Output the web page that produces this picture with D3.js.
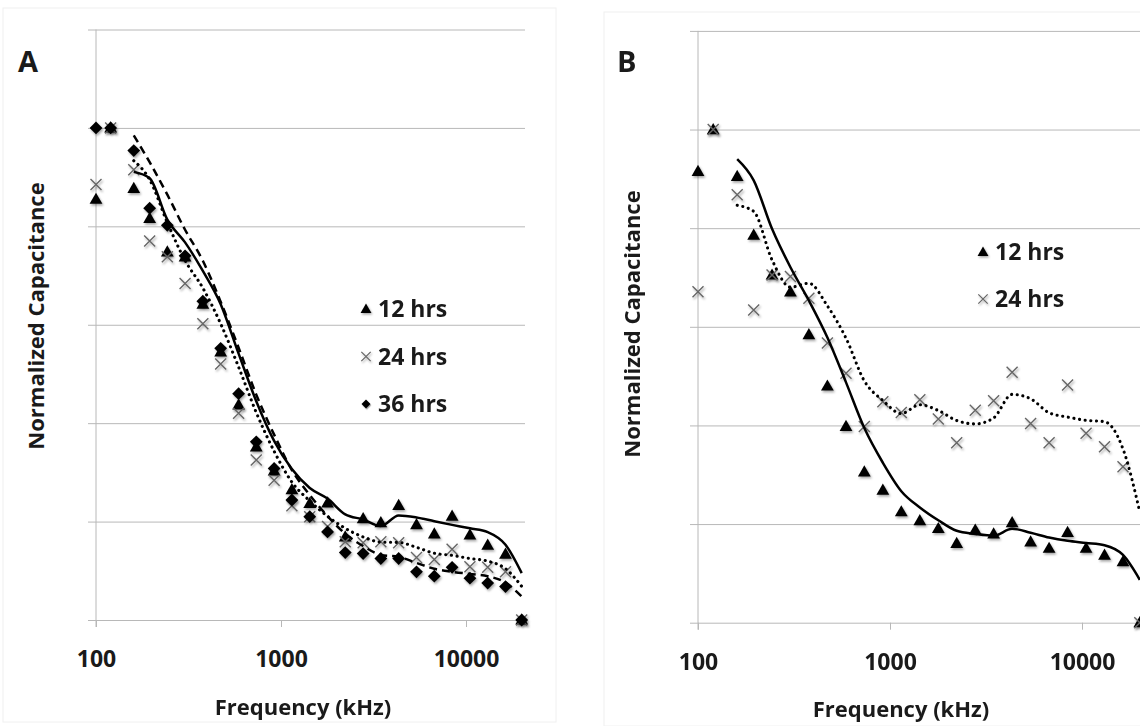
<!DOCTYPE html>
<html>
<head>
<meta charset="utf-8">
<script src="https://cdn.jsdelivr.net/npm/d3@7/dist/d3.min.js"></script>
<style>
  html, body { margin: 0; padding: 0; background: #fff; }
  svg { display: block; }
  text { font-family: "Open Sans", "Lato", sans-serif; fill: #1a1a1a; }
</style>
</head>
<body>
<svg id="chart" width="1140" height="726"></svg>
<script>
// ---- data ----
const frequencies = [100, 120, 160, 195, 243, 303, 378, 472, 590, 735, 918, 1145, 1430,
  1785, 2225, 2780, 3465, 4325, 5400, 6740, 8410, 10500, 13100, 16350, 20000];

const panelA_12hrs = [0.855, 1.0, 0.877, 0.816, 0.748, 0.738, 0.642, 0.545, 0.437, 0.352, 0.303, 0.265, 0.237,
  0.238, 0.169, 0.206, 0.198, 0.233, 0.194, 0.175, 0.211, 0.173, 0.152, 0.134, 0];
const panelA_24hrs = [0.885, 1.0, 0.915, 0.770, 0.738, 0.684, 0.602, 0.520, 0.420, 0.325, 0.284, 0.232, 0.210,
  0.190, 0.159, 0.157, 0.159, 0.157, 0.127, 0.123, 0.144, 0.108, 0.107, 0.098, 0];
const panelA_36hrs = [1.0, 1.0, 0.954, 0.837, 0.802, 0.740, 0.648, 0.552, 0.460, 0.362, 0.308, 0.244, 0.210,
  0.179, 0.137, 0.135, 0.125, 0.125, 0.098, 0.089, 0.107, 0.085, 0.075, 0.068, 0];

const panelB_12hrs = [0.915, 1.0, 0.905, 0.786, 0.705, 0.671, 0.584, 0.480, 0.398, 0.306, 0.269, 0.225, 0.207,
  0.191, 0.161, 0.188, 0.180, 0.203, 0.164, 0.151, 0.183, 0.151, 0.137, 0.124, 0];
const panelB_24hrs = [0.671, 1.0, 0.868, 0.634, 0.705, 0.702, 0.658, 0.567, 0.506, 0.398, 0.448, 0.426, 0.452,
  0.413, 0.365, 0.431, 0.450, 0.508, 0.404, 0.365, 0.482, 0.384, 0.357, 0.316, 0];

const xTickValues = [100, 1000, 10000];
const yGridValues = [0, 0.2, 0.4, 0.6, 0.8, 1.0, 1.2];
const seriesLabels = ["12 hrs", "24 hrs", "36 hrs"];
const trendPeriod = 3; // moving-average trendline period used by the chart

// ---- drawing ----
const svg = d3.select("#chart");
const defs = svg.append("defs");
const f = defs.append("filter").attr("id", "shadow").attr("x", "-50%").attr("y", "-50%")
  .attr("width", "200%").attr("height", "200%");
f.append("feDropShadow").attr("dx", 1.2).attr("dy", 1.8).attr("stdDeviation", 1.1)
  .attr("flood-color", "#000").attr("flood-opacity", 0.35);

const triPath = "M0,-6.6L6.4,4.6L-6.4,4.6Z";
const diaPath = "M0,-6.4L6.4,0L0,6.4L-6.4,0Z";
const xPath = "M-5.5,-5.5L5.5,5.5M-5.5,5.5L5.5,-5.5";

function movingAverage(vals) {
  const out = [];
  for (let i = trendPeriod - 1; i < vals.length; i++) {
    out.push({ f: frequencies[i], v: d3.mean(vals.slice(i - trendPeriod + 1, i + 1)) });
  }
  return out;
}

function drawMarkers(g, x, y, vals, kind) {
  const sel = g.append("g").attr("filter", "url(#shadow)")
    .selectAll("path").data(vals.map((v, i) => ({ f: frequencies[i], v })))
    .join("path")
    .attr("transform", d => `translate(${x(d.f)},${y(d.v)})`);
  if (kind === "tri") sel.attr("d", triPath).attr("fill", "#000");
  else if (kind === "dia") sel.attr("d", diaPath).attr("fill", "#000");
  else sel.attr("d", xPath).attr("fill", "none").attr("stroke", "#666").attr("stroke-width", 1.4);
}

function drawTrend(g, x, y, vals, style) {
  const line = d3.line().x(d => x(d.f)).y(d => y(d.v)).curve(d3.curveMonotoneX);
  const p = g.append("path").datum(movingAverage(vals)).attr("d", line)
    .attr("fill", "none").attr("stroke", "#000");
  if (style === "solid") p.attr("stroke-width", 2.5);
  else if (style === "dot") p.attr("stroke-width", 3.1).attr("stroke-dasharray", "0.1,5.6").attr("stroke-linecap", "round");
  else p.attr("stroke-width", 2.5).attr("stroke-dasharray", "8,5");
}

function panel(opts) {
  const g = svg.append("g");
  // faint chart-area border
  g.append("rect").attr("x", opts.box[0]).attr("y", opts.box[1]).attr("width", opts.box[2]).attr("height", opts.box[3])
    .attr("fill", "none").attr("stroke", "#f0f0f0").attr("stroke-width", 1);

  const x = d3.scaleLog().domain([100, 20000]).range(opts.xr);
  const y = d3.scaleLinear().domain([0, 1.2]).range(opts.yr);

  // horizontal gridlines (with outside tick marks on the left)
  const gy = g.append("g").attr("transform", `translate(${opts.xr[0] - 8},0)`)
    .call(d3.axisRight(y).tickValues(yGridValues).tickSize(opts.gridRight - opts.xr[0] + 8).tickFormat(""));
  gy.select(".domain").remove();
  gy.selectAll(".tick line").attr("stroke", "#b8b8b8").attr("stroke-width", 1);

  // x axis ticks and labels
  const gx = g.append("g").attr("transform", `translate(0,${opts.yr[0]})`)
    .call(d3.axisBottom(x).tickValues(xTickValues).tickFormat(d3.format("d")).tickSize(7).tickPadding(24));
  gx.select(".domain").remove();
  gx.selectAll(".tick line").attr("stroke", "#b8b8b8");
  gx.selectAll(".tick text").attr("font-size", 23).attr("font-weight", 700)
    .attr("font-family", "Open Sans").attr("fill", "#1a1a1a");

  // vertical axis line
  g.append("line").attr("x1", opts.xr[0]).attr("x2", opts.xr[0])
    .attr("y1", opts.yr[1]).attr("y2", opts.yr[0] + 7).attr("stroke", "#b8b8b8");

  // series
  const plot = g.append("g");
  opts.series.forEach(s => drawMarkers(plot, x, y, s.vals, s.kind));
  opts.series.forEach(s => drawTrend(plot, x, y, s.vals, s.line));

  // legend
  opts.series.forEach((s, i) => {
    const ly = opts.legend[1] + i * opts.legendStep;
    const lg = g.append("g").attr("transform", `translate(${opts.legend[0]},${ly})`);
    const m = lg.append("path").attr("filter", "url(#shadow)").attr("transform", "scale(0.85)");
    if (s.kind === "tri") m.attr("d", triPath).attr("fill", "#000");
    else if (s.kind === "dia") m.attr("d", diaPath).attr("fill", "#000").attr("transform", "scale(0.7)");
    else m.attr("d", xPath).attr("fill", "none").attr("stroke", "#666").attr("stroke-width", 1.4);
    lg.append("text").attr("x", 12).attr("y", 8).attr("font-size", 23).attr("font-weight", 700)
      .text(seriesLabels[i]);
  });

  // panel letter
  g.append("text").attr("x", opts.letterPos[0]).attr("y", opts.letterPos[1])
    .attr("font-family", "Liberation Sans, Arial, sans-serif").attr("font-size", 29).attr("font-weight", 700)
    .attr("fill", "#000").text(opts.letter);

  // axis titles
  g.append("text").attr("transform", `translate(${opts.yTitle[0]},${opts.yTitle[1]}) rotate(-90)`)
    .attr("text-anchor", "middle").attr("font-size", 22).attr("font-weight", 700)
    .text("Normalized Capacitance");
  g.append("text").attr("x", opts.xTitle[0]).attr("y", opts.xTitle[1])
    .attr("text-anchor", "middle").attr("font-size", 22).attr("font-weight", 700)
    .text("Frequency (kHz)");
}

panel({
  letter: "A", letterPos: [18, 72], box: [3, 8, 553, 714],
  xr: [96, 521.7], yr: [620, 29.5], gridRight: 525,
  legend: [366, 309], legendStep: 47.5,
  yTitle: [44, 316], xTitle: [303, 715],
  series: [
    { vals: panelA_12hrs, kind: "tri", line: "solid" },
    { vals: panelA_24hrs, kind: "x", line: "dot" },
    { vals: panelA_36hrs, kind: "dia", line: "dash" }
  ]
});

panel({
  letter: "B", letterPos: [617, 72], box: [604, 12, 540, 714],
  xr: [698, 1139.8], yr: [622.7, 30.9], gridRight: 1145,
  legend: [983, 252], legendStep: 47,
  yTitle: [640, 324], xTitle: [901, 717],
  series: [
    { vals: panelB_12hrs, kind: "tri", line: "solid" },
    { vals: panelB_24hrs, kind: "x", line: "dot" }
  ]
});
</script>
</body>
</html>
